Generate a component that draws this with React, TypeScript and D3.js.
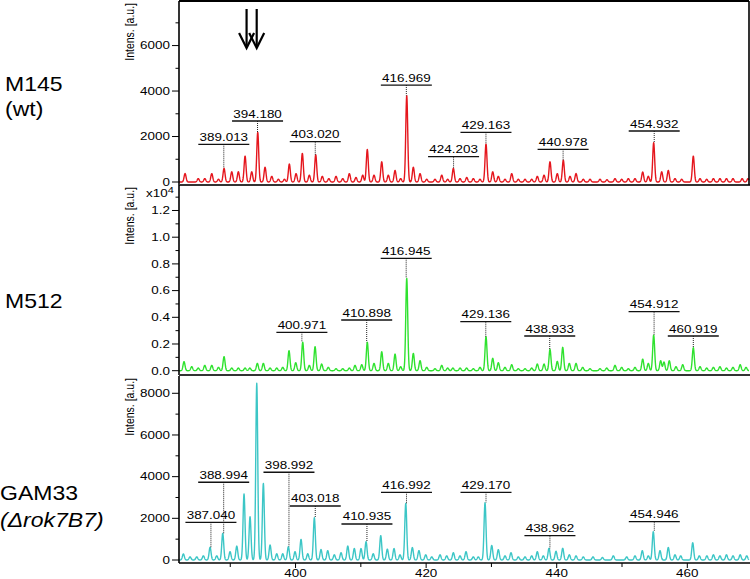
import React from 'react';
import * as d3 from 'd3';

const W = 750;
const H = 579;

// m/z axis
const MZ_DOMAIN: [number, number] = [382.15, 469.45];
const X_MINOR_TICKS = [390, 410, 430, 450];
const X_MAJOR_TICKS = [400, 420, 440, 460];

// arrows marking peaks in the top spectrum (m/z)
const ARROW_MZ = [392.5, 394.05];

// [m/z, intensity]
const M145_PEAKS: [number, number][] = [
  [383.08, 370], [385.1, 150], [386.1, 150], [387.17, 370], [388.2, 120], [389.05, 600],
  [390.23, 450], [391.24, 450], [392.27, 1140], [393.29, 450], [394.21, 2180], [395.33, 650],
  [396.36, 250], [397.37, 120], [398.3, 120], [399.05, 790], [400.08, 370], [401.04, 1260],
  [402.11, 300], [403.09, 1200], [404.1, 250], [405.1, 150], [406.2, 250], [407.23, 150],
  [408.24, 370], [409.26, 200], [410.29, 300], [410.99, 1430], [412.02, 300], [413.2, 890],
  [414.21, 300], [415.24, 510], [416.1, 150], [417.03, 3800], [418.04, 650], [419.07, 370],
  [420.09, 120], [421.36, 120], [422.39, 300], [423.3, 120], [424.17, 600], [425.19, 150],
  [426.22, 200], [427.23, 150], [428.25, 120], [429.17, 1670], [430.2, 450], [431.06, 250],
  [432.08, 120], [433.11, 370], [434.12, 120], [435.15, 120], [436.17, 120], [437.03, 250],
  [438.06, 300], [438.97, 890], [440.09, 370], [441.01, 960], [442.04, 250], [442.96, 370],
  [444.07, 120], [445.1, 120], [446.63, 120], [447.7, 100], [448.93, 150], [449.95, 120],
  [450.97, 150], [451.99, 150], [453.17, 440], [454.03, 250], [454.85, 1730], [456.08, 450],
  [457.09, 510], [458.12, 150], [459.14, 120], [460.92, 1140], [461.95, 150], [462.97, 120],
  [464.0, 150], [465.0, 150], [466.0, 150], [467.0, 150], [468.4, 150], [469.3, 150],
];

const M512_PEAKS: [number, number][] = [
  [382.92, 675], [384.1, 300], [385.1, 200], [386.1, 400], [387.17, 400], [388.2, 250],
  [389.05, 1050], [390.23, 200], [391.24, 200], [392.27, 200], [393.0, 200], [394.15, 550],
  [395.07, 550], [396.1, 200], [397.12, 200], [398.04, 250], [399.0, 1500], [400.03, 600],
  [401.1, 2130], [402.11, 400], [402.99, 1800], [404.0, 500], [405.02, 250], [406.2, 150],
  [407.23, 150], [408.24, 200], [409.11, 400], [410.14, 450], [410.99, 2130], [412.02, 550],
  [413.2, 1420], [414.21, 550], [415.24, 1250], [416.1, 300], [417.03, 6920], [418.04, 1300],
  [419.07, 750], [420.09, 250], [421.36, 150], [422.39, 400], [423.3, 200], [424.1, 200],
  [425.2, 200], [426.2, 200], [427.23, 150], [428.25, 250], [429.17, 2550], [430.2, 930],
  [431.06, 600], [432.08, 250], [433.11, 450], [434.12, 150], [435.15, 150], [436.17, 200],
  [437.03, 500], [438.06, 500], [438.97, 1600], [440.09, 700], [440.92, 1750], [441.93, 550],
  [442.96, 550], [443.98, 250], [445.1, 150], [446.63, 150], [447.66, 200], [448.93, 400],
  [449.95, 250], [450.97, 150], [451.99, 250], [453.17, 870], [454.03, 550], [454.85, 2670],
  [455.92, 750], [456.43, 650], [457.24, 750], [458.27, 300], [459.3, 450], [460.92, 1720],
  [461.95, 300], [462.97, 200], [464.0, 250], [465.0, 300], [466.0, 200], [467.0, 250],
  [468.1, 450], [469.0, 250],
];

const GAM33_PEAKS: [number, number][] = [
  [382.82, 290], [383.84, 150], [384.87, 150], [385.88, 200], [386.91, 610], [387.93, 200],
  [388.85, 1280], [389.97, 400], [391.0, 670], [392.11, 3170], [393.03, 2080], [394.06, 8480],
  [395.07, 3680], [396.1, 720], [397.12, 300], [398.04, 300], [398.9, 640], [399.92, 400],
  [400.84, 990], [401.87, 300], [402.88, 2030], [403.9, 500], [404.93, 450], [405.94, 250],
  [406.97, 350], [408.0, 670], [409.0, 550], [410.03, 550], [410.8, 880], [411.9, 300],
  [413.05, 1170], [414.06, 520], [415.08, 550], [416.0, 250], [416.88, 2720], [417.89, 600],
  [418.9, 450], [419.94, 250], [420.86, 150], [422.13, 250], [423.15, 200], [424.17, 350],
  [425.19, 200], [426.11, 400], [427.23, 150], [427.99, 150], [429.02, 2750], [430.05, 700],
  [431.06, 500], [432.08, 200], [433.0, 350], [434.12, 150], [435.15, 150], [436.17, 200],
  [437.03, 400], [437.95, 200], [438.82, 560], [439.89, 420], [440.92, 560], [441.93, 250],
  [442.96, 200], [444.07, 150], [445.56, 150], [447.0, 120], [448.67, 200], [450.72, 150],
  [451.99, 200], [453.11, 450], [454.03, 200], [454.79, 1360], [455.82, 450], [457.09, 600],
  [458.12, 250], [458.99, 200], [460.83, 830], [461.84, 200], [463.0, 200], [464.0, 250],
  [465.0, 200], [466.0, 250], [467.0, 200], [468.1, 250], [469.1, 200],
];

// peak annotations: [m/z label, bracket level (intensity)]
const M145_LABELS: [number, number][] = [
  [389.013, 1657], [394.18, 2682], [403.02, 1772], [416.969, 4264],
  [424.203, 1112], [429.163, 2185], [440.978, 1437], [454.932, 2242],
];
const M512_LABELS: [number, number][] = [
  [400.971, 2876], [410.898, 3797], [416.945, 8419], [429.136, 3670],
  [438.933, 2599], [454.912, 4419], [460.919, 2599],
];
const GAM33_LABELS: [number, number][] = [
  [387.04, 1810], [388.994, 3730], [398.992, 4210], [403.018, 2592], [410.935, 1728],
  [416.992, 3250], [429.17, 3250], [438.962, 1166], [454.946, 1838],
];

const M145_TICKS = [0, 2000, 4000, 6000];
const M145_MINOR = [1000, 3000, 5000, 7000];
const M512_TICKS = [0, 2000, 4000, 6000, 8000, 10000, 12000];
const M512_MINOR = [1000, 3000, 5000, 7000, 9000, 11000, 13000];
const GAM33_TICKS = [0, 2000, 4000, 6000, 8000];
const GAM33_MINOR = [1000, 3000, 5000, 7000];

const FONT = "'Liberation Sans', Arial, Helvetica, sans-serif";
const SX = 1.28;
const FS = 10.5;
const AX_L = 179;
const AX_R = 749;

const x = d3.scaleLinear().domain(MZ_DOMAIN).range([AX_L, AX_R]);

type Panel = {
  peaks: [number, number][];
  labels: [number, number][];
  color: string;
  yMax: number;
  top: number;
  zero: number;
  bottom: number;
  ticks: number[];
  minor: number[];
  fmt: (d: number) => string;
};

const panels: Panel[] = [
  { peaks: M145_PEAKS, labels: M145_LABELS, color: '#e5161d', yMax: 7960, top: 1, zero: 182, bottom: 185,
    ticks: M145_TICKS, minor: M145_MINOR, fmt: (d) => String(d) },
  { peaks: M512_PEAKS, labels: M512_LABELS, color: '#2fe22f', yMax: 13910, top: 185, zero: 370.7, bottom: 375,
    ticks: M512_TICKS, minor: M512_MINOR, fmt: (d) => (d / 10000).toFixed(1) },
  { peaks: GAM33_PEAKS, labels: GAM33_LABELS, color: '#3cc6c6', yMax: 8830, top: 376, zero: 560, bottom: 563,
    ticks: GAM33_TICKS, minor: GAM33_MINOR, fmt: (d) => String(d) },
];

const SIGMA = 0.15;

function spectrumValue(peaks: [number, number][], m: number) {
  let v = 0;
  for (const [mz, I] of peaks) {
    const dz = (m - mz) / SIGMA;
    if (Math.abs(dz) < 6) v += I * Math.exp(-0.5 * dz * dz);
  }
  return v;
}

function STxt(props: { x: number; y: number; anchor?: string; size?: number; children: React.ReactNode; italic?: boolean; sx?: number }) {
  const { x: tx, y: ty, anchor = 'middle', size = FS, children, italic, sx = SX } = props;
  return (
    <text
      transform={`translate(${tx},${ty}) scale(${sx},1)`}
      textAnchor={anchor as any}
      fontFamily={FONT}
      fontSize={size}
      fontStyle={italic ? 'italic' : 'normal'}
      fill="#000"
    >
      {children}
    </text>
  );
}

function PanelView({ p, idx }: { p: Panel; idx: number }) {
  const y = d3.scaleLinear().domain([0, p.yMax]).range([p.zero, p.top]);
  const samples = d3.range(MZ_DOMAIN[0], MZ_DOMAIN[1], 0.03);
  const line = d3
    .line<number>()
    .x((m) => x(m))
    .y((m) => y(spectrumValue(p.peaks, m)));
  const d = line(samples) || '';
  return (
    <g>
      <path d={d} fill="none" stroke={p.color} strokeWidth={1.4} strokeLinejoin="round" />
      {/* left axis */}
      <line x1={AX_L} x2={AX_L} y1={p.top} y2={p.bottom} stroke="#000" strokeWidth={1.6} />
      {/* bottom axis */}
      <line x1={AX_L} x2={AX_R + 1} y1={p.bottom} y2={p.bottom} stroke={idx < 2 ? '#333' : '#000'} strokeWidth={idx < 2 ? 2 : 1.4} />
      {p.ticks.map((t) => (
        <g key={'t' + t}>
          <line x1={AX_L - 7} x2={AX_L} y1={y(t)} y2={y(t)} stroke="#000" strokeWidth={1} />
          <STxt x={AX_L - 9} y={y(t) + 3.8} anchor="end">{p.fmt(t)}</STxt>
        </g>
      ))}
      {p.minor.map((t) => (
        <line key={'m' + t} x1={AX_L - 3.5} x2={AX_L} y1={y(t)} y2={y(t)} stroke="#000" strokeWidth={1} />
      ))}
      {/* y title */}
      <text
        transform={`translate(134,${p.top + 2}) scale(${SX},1) rotate(-90)`}
        textAnchor="end"
        fontFamily={FONT}
        fontSize={FS}
        fill="#000"
      >
        Intens. [a.u.]
      </text>
      {/* peak labels */}
      {p.labels.map(([mz, lvl]) => {
        const cx = x(mz);
        const near = p.peaks.filter(([m]) => Math.abs(m - mz) < 0.5);
        const pk = near.length ? near.reduce((a, b) => (b[1] > a[1] ? b : a)) : [mz, 0];
        const topY = y(spectrumValue(p.peaks, pk[0]));
        const by = y(lvl);
        return (
          <g key={'l' + mz}>
            <line x1={cx} x2={cx} y1={by} y2={topY} stroke="#222" strokeWidth={1} strokeDasharray="1,1" />
            <line x1={cx - 25.5} x2={cx + 25.5} y1={by} y2={by} stroke="#111" strokeWidth={1.3} />
            <STxt x={cx} y={by - 3.5}>{mz.toFixed(3)}</STxt>
          </g>
        );
      })}
    </g>
  );
}

export default function App() {
  const p0 = panels[0];
  return (
    <svg
      width={W}
      height={H}
      style={{ position: 'absolute', left: 0, top: 0, background: '#fff' }}
      xmlns="http://www.w3.org/2000/svg"
    >
      <rect width={W} height={H} fill="#fff" />
      {panels.map((p, i) => (
        <PanelView key={i} p={p} idx={i} />
      ))}
      {/* top panel box */}
      <line x1={AX_L} x2={AX_R} y1={1} y2={1} stroke="#000" strokeWidth={2} />
      <line x1={AX_R} x2={AX_R} y1={1} y2={p0.bottom} stroke="#000" strokeWidth={1.6} />
      {/* x10^4 */}
      <text transform={`translate(146,197) scale(${SX},1)`} fontFamily={FONT} fontSize={FS} fill="#000">
        x10<tspan dy={-4.5} fontSize={8.5}>4</tspan>
      </text>
      {/* x axis ticks */}
      {X_MINOR_TICKS.map((t) => (
        <line key={'xm' + t} x1={x(t)} x2={x(t)} y1={563} y2={567} stroke="#000" strokeWidth={1} />
      ))}
      {X_MAJOR_TICKS.map((t) => (
        <g key={'xM' + t}>
          <line x1={x(t)} x2={x(t)} y1={563} y2={568} stroke="#000" strokeWidth={1} />
          <STxt x={x(t)} y={577}>{String(t)}</STxt>
        </g>
      ))}
      {/* arrows */}
      {ARROW_MZ.map((m) => {
        const ax = x(m);
        return (
          <g key={'a' + m} stroke="#000" strokeWidth={2.2} fill="none">
            <line x1={ax} x2={ax} y1={9} y2={47} />
            <polyline points={`${ax - 7.5},33 ${ax},48 ${ax + 7.5},33`} />
          </g>
        );
      })}
      {/* sample names */}
      <STxt x={5} y={91} anchor="start" size={20} sx={1.15}>M145</STxt>
      <STxt x={5} y={116} anchor="start" size={20} sx={1.15}>(wt)</STxt>
      <STxt x={5} y={308} anchor="start" size={20} sx={1.15}>M512</STxt>
      <STxt x={0} y={500} anchor="start" size={20} sx={1.15}>GAM33</STxt>
      <STxt x={0} y={527} anchor="start" size={20} sx={1.15} italic>(Δrok7B7)</STxt>
    </svg>
  );
}
